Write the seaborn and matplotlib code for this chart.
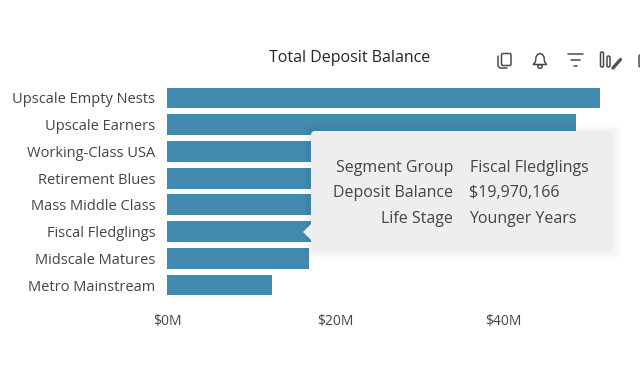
import matplotlib
matplotlib.use("Agg")
import matplotlib.pyplot as plt
from matplotlib.patches import FancyBboxPatch, Polygon, Ellipse
from matplotlib.lines import Line2D
import seaborn as sns
import pandas as pd

segments = ["Upscale Empty Nests", "Upscale Earners", "Working-Class USA", "Retirement Blues",
            "Mass Middle Class", "Fiscal Fledglings", "Midscale Matures", "Metro Mainstream"]
balances = [51.6e6, 48.7e6, 30.0e6, 26.0e6, 23.0e6, 19.97e6, 16.9e6, 12.5e6]
xticks = [0, 20e6, 40e6]
xticklabels = ["$0M", "$20M", "$40M"]
tip_keys = ["Segment Group", "Deposit Balance", "Life Stage"]
tip_vals = ["Fiscal Fledglings", "$19,970,166", "Younger Years"]

sns.set_theme(style="white")
plt.rcParams["font.family"] = ["Open Sans", "DejaVu Sans"]
W, H = 640, 380
fig = plt.figure(figsize=(W / 100, H / 100), dpi=100, facecolor="white")
left, right, top, bottom = 167, 625, 84.6, 298.4
ax = fig.add_axes([left / W, 1 - bottom / H, (right - left) / W, (bottom - top) / H])
df = pd.DataFrame({"segment": segments, "balance": balances})
sns.barplot(data=df, x="balance", y="segment", color="#428AAF", saturation=1, width=0.78,
            linewidth=0, ax=ax)
ax.set_xlim(0, (right - left) / 8.4 * 1e6)
ax.set_ylim(7.5, -0.5)
ax.set_xlabel(""); ax.set_ylabel("")
ax.set_xticks(xticks, xticklabels)
ax.tick_params(axis="x", length=0, pad=11.5, labelsize=10, labelcolor="#444444")
ax.tick_params(axis="y", length=0, pad=8.5, labelsize=10.5, labelcolor="#444444")
sns.despine(ax=ax, left=True, bottom=True)
ax.grid(False)
ax.patch.set_alpha(0)
fig.text(349.5 / W, 1 - 58 / H, "Total Deposit Balance", ha="center", va="center",
         fontsize=11.5, color="#252423")

ov = fig.add_axes([0, 0, 1, 1], zorder=5)
ov.set_xlim(0, W); ov.set_ylim(H, 0); ov.axis("off"); ov.patch.set_alpha(0)

# tooltip shadow, body, pointer
for g in range(10, 0, -2):
    ov.add_patch(FancyBboxPatch((311 - g + 2, 131 - g + 3), 302 + 2 * g - 4, 120 + 2 * g - 4,
                                boxstyle="round,pad=0,rounding_size=6", fc="black", ec="none", alpha=0.012))
ov.add_patch(FancyBboxPatch((311, 131), 302, 120, boxstyle="round,pad=0,rounding_size=4",
                            fc="#EEEEEE", ec="none"))
ov.add_patch(Polygon([(303, 232), (311, 224), (311, 240)], closed=True, fc="#EEEEEE", ec="none"))
for y, k, v in zip([168, 193, 219], tip_keys, tip_vals):
    ov.text(453, y, k, ha="right", va="center", fontsize=11.5, color="#444444")
    ov.text(469.5, y, v, ha="left", va="center", fontsize=11.5, color="#444444")

# header icons
c = "#4a4a4a"; lw = 1.1
ov.add_patch(FancyBboxPatch((501.5, 53.5), 9.5, 12, boxstyle="round,pad=0,rounding_size=1.5", fc="white", ec=c, lw=lw))
ov.add_line(Line2D([498, 498, 500, 507], [56, 66, 68, 68], color=c, lw=lw))
ov.add_line(Line2D([533.5, 535.5, 536, 537.5, 540, 542.5, 544, 544.5, 546.5, 533.5],
                   [64.5, 61.5, 57, 54.5, 53.5, 54.5, 57, 61.5, 64.5, 64.5], color=c, lw=lw))
ov.add_patch(Ellipse((540, 66.5), 4.5, 3.5, fc="none", ec=c, lw=lw))
for x0, x1, y in [(568, 583, 54), (571, 580, 60), (574, 577, 66)]:
    ov.add_line(Line2D([x0, x1], [y, y], color=c, lw=lw))
ov.add_patch(FancyBboxPatch((600.5, 52), 3, 15, boxstyle="round,pad=0,rounding_size=1.5", fc="none", ec=c, lw=lw))
ov.add_patch(FancyBboxPatch((607, 56), 3, 11, boxstyle="round,pad=0,rounding_size=1.5", fc="none", ec=c, lw=lw))
ov.add_line(Line2D([613, 620.5], [68, 59.5], color="#555555", lw=2.4))
ov.add_patch(FancyBboxPatch((639, 55), 6, 12, boxstyle="round,pad=0,rounding_size=1.5", fc="none", ec=c, lw=lw))

fig.savefig("out.png", dpi=100)
